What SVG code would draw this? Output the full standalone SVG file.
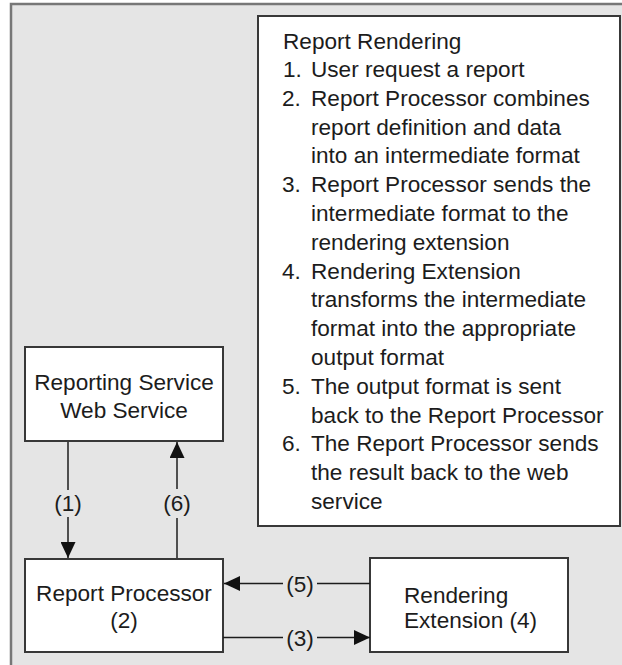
<svg xmlns="http://www.w3.org/2000/svg" width="622" height="665" viewBox="0 0 622 665">
  <defs>
    <style>
      .txt { font-family: "Liberation Sans", Arial, sans-serif; font-size: 22.6px; fill: #1c1c1c; }
      .mid { text-anchor: middle; }
      .box { fill: #ffffff; stroke: #383838; stroke-width: 2; }
      .wire { fill: none; stroke: #1c1c1c; stroke-width: 1.5; }
    </style>
    <marker id="head" markerUnits="userSpaceOnUse" markerWidth="16" markerHeight="15" refX="16" refY="7.5" orient="auto">
      <path d="M0,0 L16,7.5 L0,15 Z" fill="#111111"/>
    </marker>
  </defs>

  <!-- page background and framed panel -->
  <rect x="0" y="0" width="622" height="665" fill="#ffffff"/>
  <rect x="11" y="4" width="640" height="690" fill="#e5e5e5" stroke="#777777" stroke-width="2.5"/>

  <!-- description panel -->
  <g id="notes">
    <rect class="box" x="258" y="16" width="362" height="510"/>
    <text class="txt" x="283" y="49">Report Rendering</text>
    <text class="txt"><tspan x="283" y="77">1.</tspan><tspan x="311" y="77">User request a report</tspan></text>
    <text class="txt"><tspan x="282" y="105.8">2.</tspan><tspan x="311" y="105.8">Report Processor combines</tspan></text>
    <text class="txt" x="311" y="134.6">report definition and data</text>
    <text class="txt" x="311" y="163.4">into an intermediate format</text>
    <text class="txt"><tspan x="282" y="192.2">3.</tspan><tspan x="311" y="192.2">Report Processor sends the</tspan></text>
    <text class="txt" x="311" y="221">intermediate format to the</text>
    <text class="txt" x="311" y="249.8">rendering extension</text>
    <text class="txt"><tspan x="282" y="278.6">4.</tspan><tspan x="311" y="278.6">Rendering Extension</tspan></text>
    <text class="txt" x="311" y="307.4">transforms the intermediate</text>
    <text class="txt" x="311" y="336.2">format into the appropriate</text>
    <text class="txt" x="311" y="365">output format</text>
    <text class="txt"><tspan x="282" y="393.8">5.</tspan><tspan x="311" y="393.8">The output format is sent</tspan></text>
    <text class="txt" x="311" y="422.6">back to the Report Processor</text>
    <text class="txt"><tspan x="282" y="451.4">6.</tspan><tspan x="311" y="451.4">The Report Processor sends</tspan></text>
    <text class="txt" x="311" y="480.2">the result back to the web</text>
    <text class="txt" x="311" y="509">service</text>
  </g>

  <!-- nodes -->
  <g id="web-service">
    <rect class="box" x="25" y="347" width="198" height="94"/>
    <text class="txt mid" x="124" y="390">Reporting Service</text>
    <text class="txt mid" x="124" y="418">Web Service</text>
  </g>

  <g id="report-processor">
    <rect class="box" x="25" y="559" width="198" height="93"/>
    <text class="txt mid" x="124" y="601">Report Processor</text>
    <text class="txt mid" x="124" y="628">(2)</text>
  </g>

  <g id="rendering-extension">
    <rect class="box" x="370" y="558" width="198" height="94"/>
    <text class="txt" x="404" y="603">Rendering</text>
    <text class="txt" x="404" y="628">Extension (4)</text>
  </g>

  <!-- connectors with their step labels -->
  <g id="connectors">
    <!-- (1) web service to processor -->
    <line class="wire" x1="68" y1="442" x2="68" y2="490"/>
    <line class="wire" x1="68" y1="517" x2="68" y2="558" marker-end="url(#head)"/>
    <text class="txt mid" x="68" y="511">(1)</text>

    <!-- (6) processor back to web service -->
    <line class="wire" x1="177" y1="558" x2="177" y2="518"/>
    <line class="wire" x1="177" y1="489" x2="177" y2="442" marker-end="url(#head)"/>
    <text class="txt mid" x="177" y="511">(6)</text>

    <!-- (5) rendering extension back to processor -->
    <line class="wire" x1="370" y1="583.5" x2="317" y2="583.5"/>
    <line class="wire" x1="283" y1="583.5" x2="224" y2="583.5" marker-end="url(#head)"/>
    <text class="txt mid" x="300" y="592">(5)</text>

    <!-- (3) processor to rendering extension -->
    <line class="wire" x1="223" y1="637.5" x2="283" y2="637.5"/>
    <line class="wire" x1="317" y1="637.5" x2="370" y2="637.5" marker-end="url(#head)"/>
    <text class="txt mid" x="300" y="646">(3)</text>
  </g>
</svg>
